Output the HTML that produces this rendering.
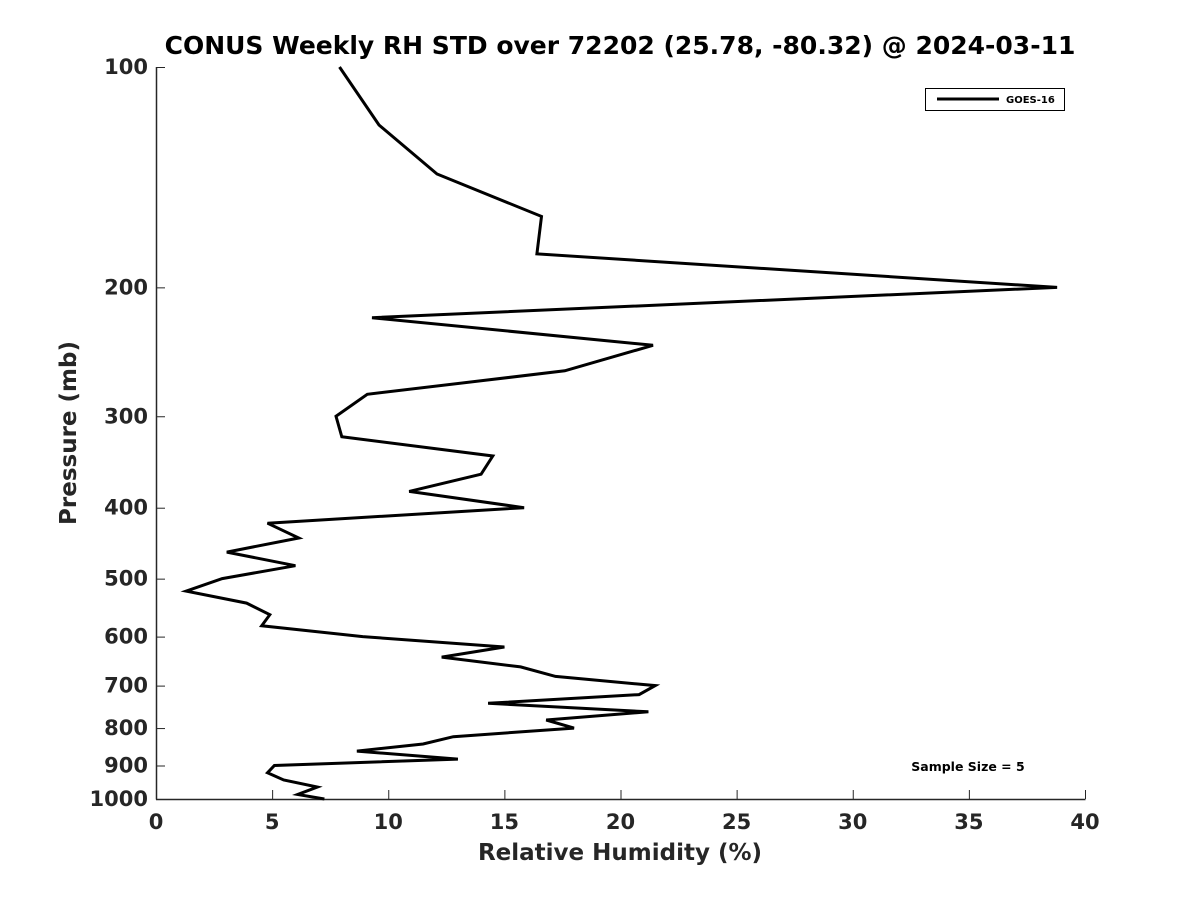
<!DOCTYPE html>
<html><head><meta charset="utf-8"><style>
body{margin:0;background:#fff;}
svg text{font-family:"DejaVu Sans","Liberation Sans",sans-serif;font-weight:bold;}
</style></head><body>
<svg id="chart" width="1200" height="900" viewBox="0 0 1200 900">
<rect width="1200" height="900" fill="#fff"/>
<text x="620" y="54" text-anchor="middle" font-size="25" fill="#000">CONUS Weekly RH STD over 72202 (25.78, -80.32) @ 2024-03-11</text>
<g id="axes"></g>
<path id="line" fill="none" stroke="#000" stroke-width="3" stroke-linejoin="miter"/>
<g>
<rect x="925.5" y="88.5" width="139" height="22" fill="#fff" stroke="#000" stroke-width="1"/>
<line x1="937" y1="99" x2="999" y2="99" stroke="#000" stroke-width="3"/>
<text x="1006" y="103" font-size="10" fill="#000">GOES-16</text>
</g>
<text x="968" y="771" text-anchor="middle" font-size="12.5" fill="#000">Sample Size = 5</text>
<text x="620" y="860" text-anchor="middle" font-size="23" fill="#262626">Relative Humidity (%)</text>
<text transform="translate(76,433) rotate(-90)" text-anchor="middle" font-size="23" fill="#262626">Pressure (mb)</text>
</svg>
<script>
const rhValues=[7.9,9.6,12.1,16.6,16.4,38.8,9.3,21.4,17.6,9.1,7.75,8.0,14.5,14.0,10.9,15.85,4.8,6.15,3.05,6.0,2.85,1.3,3.9,4.9,4.55,8.9,15.0,12.3,15.7,17.2,21.5,20.8,14.3,21.2,16.8,18.0,12.8,11.5,8.65,13.0,5.1,4.8,5.5,6.95,6.1,7.25];
const pressures=[100,120,140,160,180,200,220,240,260,280,300,320,340,360,380,400,420,440,460,480,500,520,540,560,580,600,620,640,660,680,700,720,740,760,780,800,822,841,860,882,900,921,942,963,986,1000];
const xTicks=[0,5,10,15,20,25,30,35,40];
const yTicks=[100,200,300,400,500,600,700,800,900,1000];
const L=156,R=1085,T=67,B=799;
const xs=v=>L+(v-0)/(40-0)*(R-L);
const ys=p=>T+Math.log10(p/100)/Math.log10(10)*(B-T);
const NS="http://www.w3.org/2000/svg";
const axes=document.getElementById('axes');
function mk(tag,attrs){const e=document.createElementNS(NS,tag);for(const k in attrs)e.setAttribute(k,attrs[k]);axes.appendChild(e);return e;}
const xa=mk('line',{x1:L,y1:B+0.5,x2:R+0.5,y2:B+0.5,stroke:'#262626','stroke-width':1.5});


const ya=mk('line',{x1:L+0.5,y1:T,x2:L+0.5,y2:B+0.5,stroke:'#262626','stroke-width':1.5});


xTicks.forEach(v=>{const x=xs(v);
mk('line',{x1:x+0.5,y1:B,x2:x+0.5,y2:B-9,stroke:'#262626','stroke-width':1});
const t=mk('text',{x:x,y:B+30,'text-anchor':'middle','font-size':21,fill:'#262626'});t.textContent=v;

});
yTicks.forEach(p=>{const y=ys(p);
mk('line',{x1:L,y1:y+0.5,x2:L+9,y2:y+0.5,stroke:'#262626','stroke-width':1});
const t=mk('text',{x:L-8,y:y+7,'text-anchor':'end','font-size':21,fill:'#262626'});t.textContent=p;

});
document.getElementById('line').setAttribute('d',rhValues.map((v,i)=>(i?'L':'M')+xs(v).toFixed(1)+','+ys(pressures[i]).toFixed(1)).join(''));
</script>
</body></html>
